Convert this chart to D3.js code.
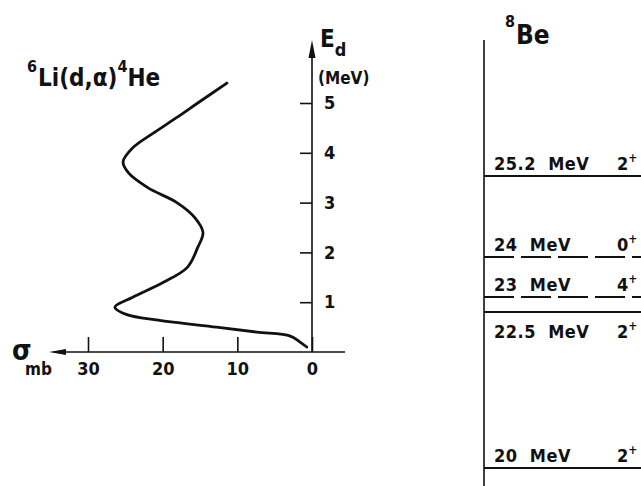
<!DOCTYPE html>
<html>
<head>
<meta charset="utf-8">
<script src="https://cdn.jsdelivr.net/npm/d3@7"></script>
<style>
  body { margin: 0; background: #fff; }
  text { font-family: "DejaVu Sans Condensed", "DejaVu Sans", sans-serif; font-weight: bold; fill: #111; }
</style>
</head>
<body>
<svg width="641" height="486"></svg>
<script>
// excitation function 6Li(d,a)4He
var energyMeV = [0.1, 0.2, 0.32, 0.4, 0.5, 0.64, 0.75, 0.9, 1.1, 1.4, 1.7, 2.1, 2.4, 2.7, 3.0, 3.3, 3.6, 3.82, 4.1, 4.4, 4.7, 5.0, 5.4];
var sigmaMb   = [0.7, 1.6, 2.9, 7.4, 12.8, 20.6, 24.8, 26.4, 24.0, 19.9, 16.7, 15.3, 14.6, 15.7, 18.1, 22.0, 24.6, 25.3, 24.0, 21.2, 18.2, 15.3, 11.4];
var energyTicks = [1, 2, 3, 4, 5];
var sigmaTicks = [0, 10, 20, 30];

// 8Be levels
var levelMeV = [25.2, 24, 23, 22.5, 20];
var levelLabel = ["25.2 MeV", "24 MeV", "23 MeV", "22.5 MeV", "20 MeV"];
var levelSpin = ["2", "0", "4", "2", "2"];
var levelParity = ["+", "+", "+", "+", "+"];
var levelDashed = [false, true, true, false, false];

var svg = d3.select("svg"),
    width = +svg.attr("width"),
    height = +svg.attr("height");

var x = d3.scaleLinear().domain([0, 30]).range([312, 88]),
    y = d3.scaleLinear().domain([0, 5]).range([352, 103]);

// ---- left panel: cross section
var left = svg.append("g");

left.append("line")
    .attr("x1", x(0)).attr("x2", x(0))
    .attr("y1", y(0)).attr("y2", 52)
    .attr("stroke", "#111").attr("stroke-width", 1.6);
left.append("path")
    .attr("d", "M" + x(0) + ",40 L" + (x(0) - 3.5) + ",58 L" + (x(0) + 3.5) + ",58 Z")
    .attr("fill", "#111");

left.append("line")
    .attr("x1", 60).attr("x2", 345)
    .attr("y1", y(0)).attr("y2", y(0))
    .attr("stroke", "#111").attr("stroke-width", 1.6);
left.append("path")
    .attr("d", "M49," + y(0) + " L66," + (y(0) - 3) + " L66," + (y(0) + 3) + " Z")
    .attr("fill", "#111");

var yAxis = left.append("g")
    .attr("transform", "translate(" + x(0) + ",0)")
    .call(d3.axisRight(y).tickValues(energyTicks).tickSize(-12).tickPadding(12).tickFormat(d3.format("d")));
yAxis.select(".domain").remove();

var xAxis = left.append("g")
    .attr("transform", "translate(0," + y(0) + ")")
    .call(d3.axisBottom(x).tickValues(sigmaTicks).tickSize(-15).tickPadding(10).tickFormat(d3.format("d")));
xAxis.select(".domain").remove();

left.selectAll(".tick line").attr("stroke", "#111").attr("stroke-width", 1.6);
left.selectAll(".tick text")
    .attr("font-family", null).attr("font-size", null)
    .style("font-size", "18px");

var line = d3.line()
    .x(function(d, i) { return x(sigmaMb[i]); })
    .y(function(d) { return y(d); })
    .curve(d3.curveCatmullRom.alpha(0.5));

left.append("path")
    .datum(energyMeV)
    .attr("d", line)
    .attr("fill", "none")
    .attr("stroke", "#111")
    .attr("stroke-width", 2.8)
    .attr("stroke-linecap", "round");

var title = left.append("text").attr("x", 27).attr("y", 86).style("font-size", "24px");
title.append("tspan").attr("dy", -14).style("font-size", "16px").text("6");
title.append("tspan").attr("dy", 14).attr("dx", 1).text("Li(d,α)");
title.append("tspan").attr("dy", -14).style("font-size", "16px").text("4");
title.append("tspan").attr("dy", 14).text("He");

var eLabel = left.append("text").attr("x", 320).attr("y", 47).style("font-size", "24px");
eLabel.append("tspan").text("E");
eLabel.append("tspan").attr("dy", 9).style("font-size", "18px").text("d");
left.append("text").attr("x", 318).attr("y", 84).style("font-size", "17px").text("(MeV)");

left.append("text").attr("x", 12).attr("y", 360).style("font-size", "28px").text("σ");
left.append("text").attr("x", 25).attr("y", 375).style("font-size", "17px").text("mb");

// ---- right panel: level scheme
var ly = d3.scaleLinear().domain([20, 22.5, 23, 24, 25.2]).range([468, 312, 297, 257, 176]);
var x0 = 484;

var right = svg.append("g");
right.append("line")
    .attr("x1", x0).attr("x2", x0).attr("y1", 40).attr("y2", height)
    .attr("stroke", "#111").attr("stroke-width", 1.6);

var be = right.append("text").attr("x", 505).attr("y", 44).style("font-size", "26px");
be.append("tspan").attr("dy", -17).style("font-size", "16px").text("8");
be.append("tspan").attr("dy", 17).attr("dx", 1).text("Be");

var levels = right.selectAll(".level")
    .data(levelMeV)
  .enter().append("g")
    .attr("class", "level");

levels.append("line")
    .attr("x1", x0).attr("x2", width)
    .attr("y1", function(d) { return ly(d); })
    .attr("y2", function(d) { return ly(d); })
    .attr("stroke", "#111")
    .attr("stroke-width", 2)
    .attr("stroke-dasharray", function(d, i) { return levelDashed[i] ? "30,7" : null; });

function labelY(d, i) {
  var above = i > 0 ? ly(levelMeV[i - 1]) : 0;
  return ly(d) - above < 25 ? ly(d) + 26 : ly(d) - 6;
}

levels.append("text")
    .attr("x", x0 + 10)
    .attr("y", labelY)
    .style("font-size", "18px")
    .style("letter-spacing", "0.5px")
    .attr("xml:space", "preserve")
    .text(function(d, i) { return levelLabel[i].replace(" ", "  "); });

var jp = levels.append("text")
    .attr("x", 617)
    .attr("y", labelY)
    .style("font-size", "18px");
jp.append("tspan").text(function(d, i) { return levelSpin[i]; });
jp.append("tspan").attr("dy", -8).style("font-size", "12px").text(function(d, i) { return levelParity[i]; });
</script>
</body>
</html>
